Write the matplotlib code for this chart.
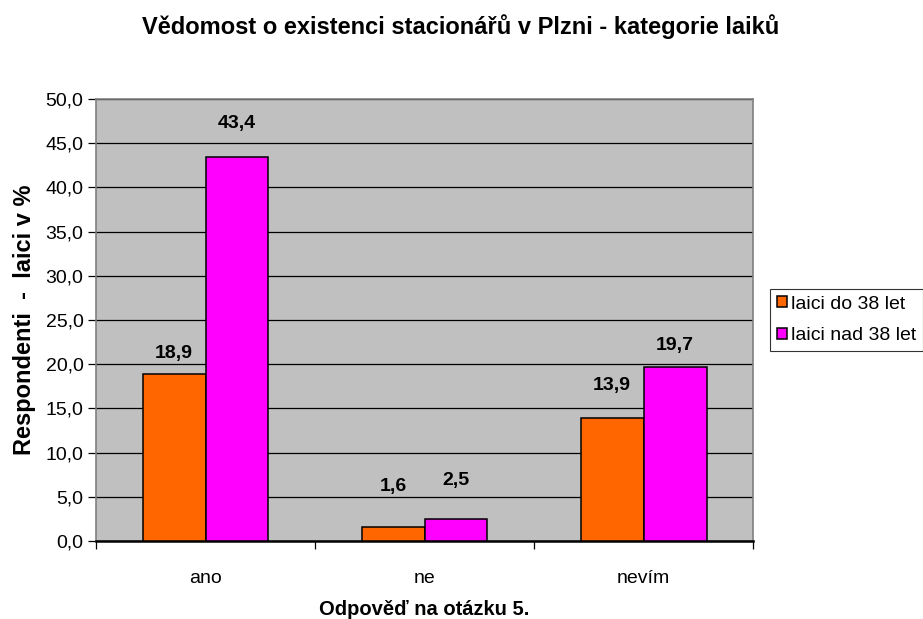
import matplotlib
matplotlib.use("Agg")
import matplotlib.pyplot as plt
import numpy as np

plt.rcParams['font.family'] = ['Liberation Sans', 'DejaVu Sans']

categories = ["ano", "ne", "nevím"]
series_names = ["laici do 38 let", "laici nad 38 let"]
do_38 = [18.9, 1.6, 13.9]
nad_38 = [43.4, 2.5, 19.7]
yticks = np.arange(0, 50.1, 5)

# gap (in points) between each bar top and its value label
gap_do = [11.5, 26, 20]
gap_nad = [21.5, 24.5, 12.5]

fig = plt.figure(figsize=(9.23, 6.19), dpi=100)
ax = fig.add_axes([0.104, 0.126, 0.712, 0.714])
ax.set_facecolor("#C0C0C0")

x = np.arange(len(categories))
w = 0.287
b1 = ax.bar(x - w / 2, do_38, w, color="#FF6600", edgecolor="black", linewidth=1.1,
            label=series_names[0], zorder=3)
b2 = ax.bar(x + w / 2, nad_38, w, color="#FF00FF", edgecolor="black", linewidth=1.1,
            label=series_names[1], zorder=3)

for bars, vals, gaps in ((b1, do_38, gap_do), (b2, nad_38, gap_nad)):
    for r, v, g in zip(bars, vals, gaps):
        ax.annotate(f"{v:.1f}".replace(".", ","),
                    (r.get_x() + r.get_width() / 2, v),
                    xytext=(0, g), textcoords="offset points",
                    ha="center", va="baseline", fontsize=14, fontweight="bold")

ax.set_xlim(-0.5, 2.5)
ax.set_ylim(0, 50)
ax.set_yticks(yticks)
ax.set_yticklabels([f"{t:.1f}".replace(".", ",") for t in yticks], fontsize=14)
ax.yaxis.grid(True, color="black", linewidth=0.9, zorder=0)
ax.set_axisbelow(True)

ax.set_xticks(x)
ax.set_xticklabels(categories, fontsize=14)
ax.tick_params(axis="x", length=0, pad=21)
ax.set_xticks([-0.5, 0.5, 1.5, 2.5], minor=True)
ax.tick_params(axis="x", which="minor", length=6, width=0.9, color="black")
ax.tick_params(axis="y", length=6, width=0.9, color="black", pad=3)

for s in ("top", "right", "left"):
    ax.spines[s].set_color("#808080")
    ax.spines[s].set_linewidth(1.2)
ax.spines["bottom"].set_color("black")
ax.spines["bottom"].set_linewidth(1.8)

ax.set_ylabel("Respondenti  -  laici v %", fontsize=17, fontweight="bold", labelpad=7)
ax.set_xlabel("Odpověď na otázku 5.", fontsize=14.5, fontweight="bold", labelpad=9)

fig.text(0.499, 1 - 34 / 619, "Vědomost o existenci stacionářů v Plzni - kategorie laiků",
         ha="center", va="baseline", fontsize=17, fontweight="bold")

leg = fig.legend(handles=[b1, b2], labels=series_names, loc="upper left",
                 bbox_to_anchor=(770 / 923, 1 - 289 / 619), fontsize=14, frameon=True,
                 fancybox=False, edgecolor="black", handlelength=0.5, handleheight=0.5,
                 handletextpad=0.25, borderpad=0.35, labelspacing=0.75, borderaxespad=0)
leg.get_frame().set_linewidth(0.8)

fig.savefig("out.png", dpi=100)
